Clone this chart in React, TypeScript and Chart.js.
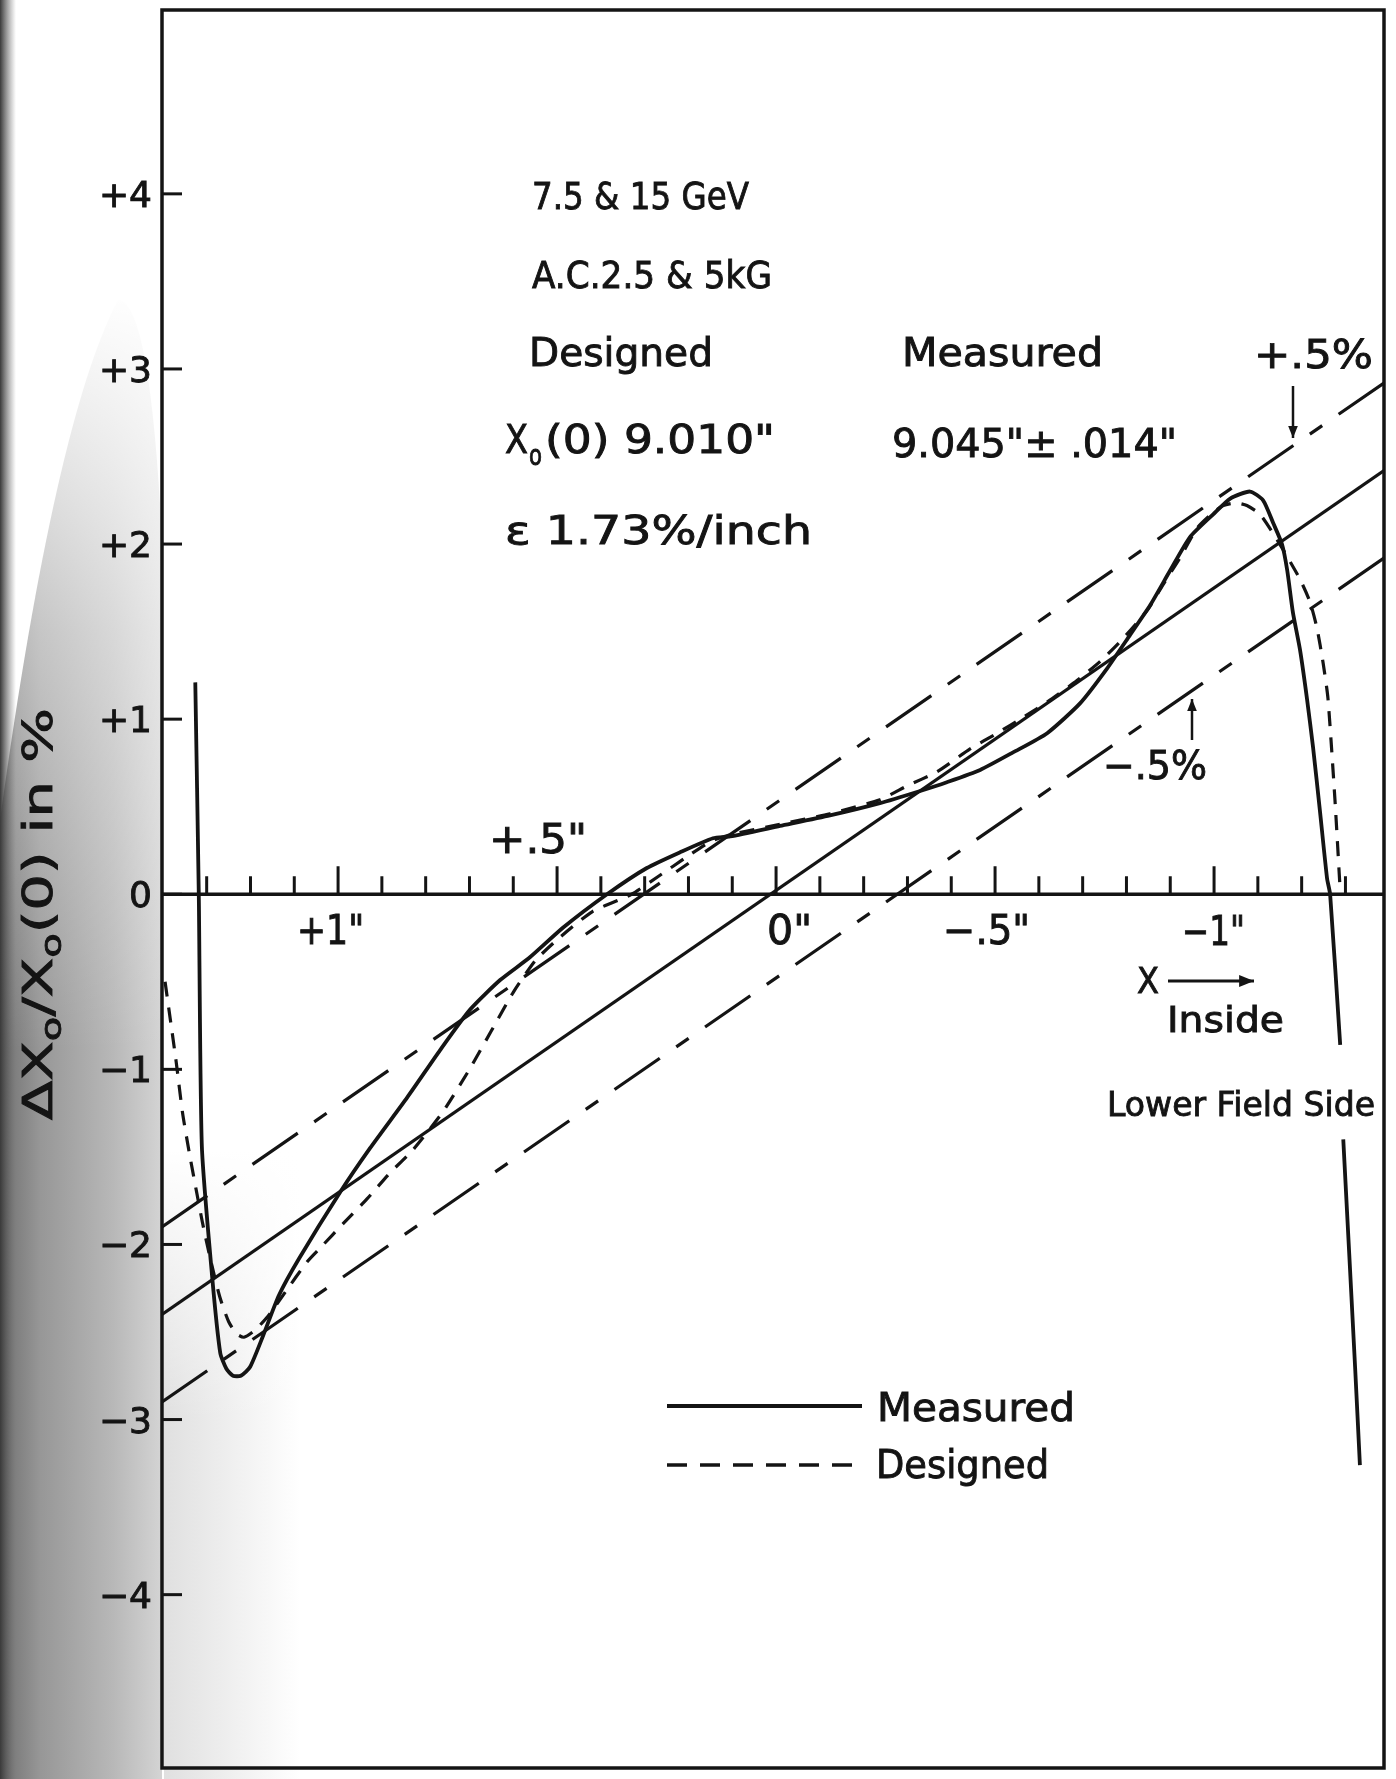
import React, { useEffect, useRef } from "react";
import { Chart, registerables } from "chart.js";

Chart.register(...registerables);

const CANVAS_W = 1396;
const CANVAS_H = 1779;

// X position in inches (positive = left / outside), ΔX0/X0(0) in %
const measuredX = [
  1.326, 1.318, 1.311, 1.288, 1.269, 1.255, 1.240, 1.222, 1.201, 1.171,
  1.135, 1.089, 0.995, 0.927, 0.842, 0.767, 0.699, 0.630, 0.562, 0.486,
  0.386, 0.295, 0.219, 0.144, 0.105, -0.009, -0.123, -0.237, -0.329, -0.390,
  -0.466, -0.541, -0.619, -0.694, -0.756, -0.808, -0.854, -0.900, -0.945, -0.998,
  -1.037, -1.082, -1.112, -1.135, -1.155, -1.167, -1.180, -1.196, -1.212, -1.226,
  -1.242, -1.258, -1.265, -1.288, -1.291, -1.295, -1.322, -1.333,
];
const measuredY = [
  1.21, 0.0, -1.44, -2.17, -2.62, -2.71, -2.75, -2.75, -2.70, -2.52,
  -2.29, -2.08, -1.70, -1.45, -1.16, -0.89, -0.66, -0.49, -0.36, -0.19,
  0.0, 0.15, 0.24, 0.32, 0.33, 0.39, 0.45, 0.52, 0.59, 0.64,
  0.71, 0.81, 0.92, 1.09, 1.29, 1.48, 1.65, 1.85, 2.04, 2.17,
  2.26, 2.30, 2.25, 2.12, 2.0, 1.85, 1.61, 1.40, 1.12, 0.84,
  0.47, 0.09, 0.0, -0.86, null, -1.40, -2.70, -3.26,
];

const designedX = [
  1.395, 1.370, 1.355, 1.338, 1.310, 1.290, 1.270, 1.250, 1.232, 1.215,
  1.190, 1.160, 1.120, 1.071, 1.037, 0.988, 0.934, 0.881, 0.829, 0.760,
  0.700, 0.650, 0.600, 0.550, 0.500, 0.420, 0.330, 0.270, 0.200, 0.150,
  0.105, -0.009, -0.123, -0.237, -0.300, -0.368, -0.443, -0.505, -0.564, -0.626,
  -0.687, -0.740, -0.792, -0.847, -0.884, -0.922, -0.961, -0.998, -1.021, -1.050,
  -1.075, -1.105, -1.150, -1.196, -1.219, -1.235, -1.249, -1.260, -1.276, -1.288,
];
const designedY = [
  -0.50, -0.95, -1.25, -1.50, -1.87, -2.10, -2.30, -2.44, -2.51, -2.53,
  -2.49, -2.41, -2.27, -2.10, -2.01, -1.88, -1.74, -1.59, -1.46, -1.24,
  -1.0, -0.78, -0.56, -0.38, -0.26, -0.10, 0.0, 0.10, 0.22, 0.30,
  0.34, 0.40, 0.46, 0.54, 0.62, 0.70, 0.83, 0.92, 1.01, 1.11,
  1.22, 1.33, 1.46, 1.62, 1.77, 1.92, 2.09, 2.18, 2.22, 2.235,
  2.22, 2.17, 2.0, 1.80, 1.67, 1.52, 1.32, 1.12, 0.54, 0.02,
];

// straight reference lines (1.73 %/inch), end points at the frame edges
const lineX = [1.402, -1.388];
const centerLineY = [-2.40, 2.42];
const plusLineY = [-1.90, 2.92];
const minusLineY = [-2.90, 1.92];

const yTickValues = [4, 3, 2, 1, 0, -1, -2, -3, -4];
const yTickLabels = ["+4", "+3", "+2", "+1", "0", "\u22121", "\u22122", "\u22123", "\u22124"];
const xMajorValues = [1, 0.5, 0, -0.5, -1];
const xMajorLabels = ['+1"', '+.5"', '0"', '\u2212.5"', '\u22121"'];
const xMinorValues = [
  1.3, 1.2, 1.1, 0.9, 0.8, 0.7, 0.6, 0.4, 0.3, 0.2, 0.1,
  -0.1, -0.2, -0.3, -0.4, -0.6, -0.7, -0.8, -0.9, -1.1, -1.2, -1.3,
];

const FONT = '"DejaVu Sans", "Liberation Sans", sans-serif';
const INK = "#141414";

function fitText(
  ctx: CanvasRenderingContext2D,
  s: string,
  x: number,
  base: number,
  width: number,
  size: number,
  family: string = FONT
) {
  ctx.font = `${size}px ${family}`;
  const w = ctx.measureText(s).width || 1;
  ctx.save();
  ctx.translate(x, base);
  ctx.scale(width / w, 1);
  ctx.textAlign = "left";
  ctx.textBaseline = "alphabetic";
  ctx.lineWidth = 0.9;
  ctx.fillText(s, 0, 0);
  ctx.strokeText(s, 0, 0);
  ctx.restore();
}

function arrow(ctx: CanvasRenderingContext2D, x1: number, y1: number, x2: number, y2: number, head = 13) {
  ctx.beginPath();
  ctx.moveTo(x1, y1);
  ctx.lineTo(x2, y2);
  ctx.stroke();
  const a = Math.atan2(y2 - y1, x2 - x1);
  ctx.beginPath();
  ctx.moveTo(x2, y2);
  ctx.lineTo(x2 - head * Math.cos(a - 0.38), y2 - head * Math.sin(a - 0.38));
  ctx.lineTo(x2 - head * Math.cos(a + 0.38), y2 - head * Math.sin(a + 0.38));
  ctx.closePath();
  ctx.fill();
}

const decorPlugin = {
  id: "decor",
  beforeDraw(chart: any) {
    const ctx: CanvasRenderingContext2D = chart.ctx;
    const area = chart.chartArea;
    ctx.save();
    ctx.fillStyle = "#ffffff";
    ctx.fillRect(0, 0, CANVAS_W, CANVAS_H);
    // scanned grey shadow on the left margin
    const g = ctx.createLinearGradient(0, 0, area.left, 0);
    g.addColorStop(0, "#707070");
    g.addColorStop(0.25, "#979797");
    g.addColorStop(0.7, "#b8b8b8");
    g.addColorStop(1, "#d4d4d4");
    ctx.fillStyle = g;
    ctx.beginPath();
    ctx.moveTo(0, CANVAS_H);
    ctx.lineTo(0, 820);
    ctx.quadraticCurveTo(55, 420, 118, 300);
    ctx.quadraticCurveTo(150, 300, area.left, 540);
    ctx.lineTo(area.left, CANVAS_H);
    ctx.closePath();
    ctx.fill();
    const v = ctx.createLinearGradient(0, 290, 0, 1050);
    v.addColorStop(0, "rgba(255,255,255,1)");
    v.addColorStop(0.45, "rgba(255,255,255,0.45)");
    v.addColorStop(1, "rgba(255,255,255,0)");
    ctx.fillStyle = v;
    ctx.fillRect(0, 290, area.left, 760);
    // faint spill of the shadow into the plot, bottom left
    ctx.save();
    ctx.beginPath();
    ctx.rect(area.left + 2, 1150, 140, CANVAS_H - 1150);
    ctx.clip();
    const s = ctx.createLinearGradient(area.left, 0, 300, 0);
    s.addColorStop(0, "rgba(185,185,185,0.45)");
    s.addColorStop(1, "rgba(185,185,185,0)");
    ctx.fillStyle = s;
    ctx.fillRect(area.left, 1150, 140, CANVAS_H - 1150);
    const s2 = ctx.createLinearGradient(0, 1150, 0, 1420);
    s2.addColorStop(0, "rgba(255,255,255,1)");
    s2.addColorStop(1, "rgba(255,255,255,0)");
    ctx.fillStyle = s2;
    ctx.fillRect(area.left, 1150, 140, 270);
    ctx.restore();
    // dark scanner edge
    const e = ctx.createLinearGradient(0, 0, 16, 0);
    e.addColorStop(0, "#3a3a3a");
    e.addColorStop(1, "rgba(110,110,110,0)");
    ctx.fillStyle = e;
    ctx.fillRect(0, 0, 16, CANVAS_H);
    ctx.restore();
  },
  beforeDatasetsDraw(chart: any) {
    const ctx: CanvasRenderingContext2D = chart.ctx;
    const area = chart.chartArea;
    const xs = chart.scales.x;
    const ys = chart.scales.y;
    ctx.save();
    ctx.strokeStyle = INK;
    ctx.fillStyle = INK;
    // frame
    ctx.lineWidth = 3.5;
    ctx.strokeRect(area.left, area.top, area.right - area.left, area.bottom - area.top);
    // y ticks (inside) and labels
    ctx.lineWidth = 3;
    yTickValues.forEach((v, i) => {
      const py = ys.getPixelForValue(v);
      ctx.beginPath();
      ctx.moveTo(area.left, py);
      ctx.lineTo(area.left + 20, py);
      ctx.stroke();
      ctx.save();
      ctx.font = `36px ${FONT}`;
      ctx.textAlign = "right";
      ctx.textBaseline = "alphabetic";
      ctx.lineWidth = 0.9;
      ctx.fillText(yTickLabels[i], area.left - 10, py + 13);
      ctx.strokeText(yTickLabels[i], area.left - 10, py + 13);
      ctx.restore();
    });
    // x axis along y = 0
    const y0 = ys.getPixelForValue(0);
    ctx.lineWidth = 3.5;
    ctx.beginPath();
    ctx.moveTo(area.left, y0);
    ctx.lineTo(area.right, y0);
    ctx.stroke();
    ctx.lineWidth = 3;
    xMinorValues.forEach((v) => {
      const px = xs.getPixelForValue(v);
      ctx.beginPath();
      ctx.moveTo(px, y0);
      ctx.lineTo(px, y0 - 18);
      ctx.stroke();
    });
    xMajorValues.forEach((v) => {
      const px = xs.getPixelForValue(v);
      ctx.beginPath();
      ctx.moveTo(px, y0);
      ctx.lineTo(px, y0 - 28);
      ctx.stroke();
    });
    ctx.restore();
  },
  afterDatasetsDraw(chart: any) {
    const ctx: CanvasRenderingContext2D = chart.ctx;
    const xs = chart.scales.x;
    const ys = chart.scales.y;
    const y0 = ys.getPixelForValue(0);
    ctx.save();
    ctx.fillStyle = INK;
    ctx.strokeStyle = INK;

    // x tick labels (offset from tick, width, baseline offset from axis)
    const xLab = [
      { dx: -41, w: 67, dy: 50 },
      { dx: -68, w: 98, dy: -41 },
      { dx: -9, w: 45, dy: 50 },
      { dx: -52, w: 87, dy: 50 },
      { dx: -32, w: 63, dy: 51 },
    ];
    xMajorValues.forEach((v, i) => {
      const px = xs.getPixelForValue(v);
      const l = xLab[i];
      fitText(ctx, xMajorLabels[i], px + l.dx, y0 + l.dy, l.w, 40);
    });

    // header text block
    fitText(ctx, "7.5 & 15 GeV", 532, 209, 217, 37);
    fitText(ctx, "A.C.2.5 & 5kG", 532, 288, 240, 37);
    fitText(ctx, "Designed", 529, 366, 184, 39);
    fitText(ctx, "Measured", 902, 366, 201, 39);
    fitText(ctx, "X", 505, 453, 23, 39);
    fitText(ctx, "o", 529, 465, 13, 28);
    fitText(ctx, '(0) 9.010"', 545, 453, 230, 39);
    fitText(ctx, '9.045"\u00b1 .014"', 892, 457, 285, 39);
    fitText(ctx, "\u03b5 1.73%/inch", 505, 544, 307, 39);

    // ±.5% labels with arrows
    fitText(ctx, "+.5%", 1254, 368, 119, 39);
    fitText(ctx, "\u2212.5%", 1103, 779, 104, 39);
    ctx.lineWidth = 2.5;
    arrow(ctx, 1293, 386, 1293, 438, 13);
    arrow(ctx, 1192, 740, 1192, 699, 13);

    // X -> Inside
    fitText(ctx, "X", 1137, 993, 22, 36);
    ctx.lineWidth = 3;
    arrow(ctx, 1168, 981, 1254, 981, 16);
    fitText(ctx, "Inside", 1167, 1032, 117, 36);
    fitText(ctx, "Lower Field Side", 1107, 1116, 268, 34);

    // y axis title
    ctx.save();
    ctx.translate(52, 1120);
    ctx.rotate(-Math.PI / 2);
    const parts = [
      { t: "\u0394X", s: 40, d: 0 },
      { t: "o", s: 28, d: 9 },
      { t: "/X", s: 40, d: 0 },
      { t: "o", s: 28, d: 9 },
      { t: "(0) in %", s: 40, d: 0 },
    ];
    let total = 0;
    const widths = parts.map((p) => {
      ctx.font = `${p.s}px ${FONT}`;
      const w = ctx.measureText(p.t).width;
      total += w;
      return w;
    });
    const sx = 412 / total;
    ctx.scale(sx, 1);
    let cx = 0;
    ctx.lineWidth = 0.9;
    parts.forEach((p, i) => {
      ctx.font = `${p.s}px ${FONT}`;
      ctx.textAlign = "left";
      ctx.textBaseline = "alphabetic";
      ctx.fillText(p.t, cx, p.d);
      ctx.strokeText(p.t, cx, p.d);
      cx += widths[i];
    });
    ctx.restore();

    // legend
    const dsM = chart.data.datasets[0];
    const dsD = chart.data.datasets[1];
    ctx.lineWidth = dsM.borderWidth;
    ctx.setLineDash([]);
    ctx.beginPath();
    ctx.moveTo(667, 1406);
    ctx.lineTo(862, 1406);
    ctx.stroke();
    fitText(ctx, dsM.label, 877, 1421, 198, 39);
    ctx.lineWidth = dsD.borderWidth + 0.5;
    ctx.setLineDash([20, 13]);
    ctx.beginPath();
    ctx.moveTo(667, 1465);
    ctx.lineTo(862, 1465);
    ctx.stroke();
    ctx.setLineDash([]);
    fitText(ctx, dsD.label, 876, 1478, 173, 39);
    ctx.restore();
  },
};

function pts(xv: number[], yv: (number | null)[]) {
  return xv.map((x, i) => ({ x, y: yv[i] }));
}

export default function App() {
  const ref = useRef<HTMLCanvasElement | null>(null);
  useEffect(() => {
    if (!ref.current) return;
    const chart = new Chart(ref.current, {
      type: "scatter",
      data: {
        datasets: [
          {
            label: "Measured",
            data: pts(measuredX, measuredY),
            showLine: true,
            borderColor: INK,
            borderWidth: 3.8,
            pointRadius: 0,
            tension: 0.2,
            spanGaps: false,
            order: 1,
          },
          {
            label: "Designed",
            data: pts(designedX, designedY),
            showLine: true,
            borderColor: INK,
            borderWidth: 3.2,
            borderDash: [15, 11],
            pointRadius: 0,
            tension: 0.2,
            order: 2,
          },
          {
            label: "ε 1.73 %/inch",
            data: pts(lineX, centerLineY),
            showLine: true,
            borderColor: INK,
            borderWidth: 3.2,
            pointRadius: 0,
            order: 3,
          },
          {
            label: "+.5%",
            data: pts(lineX, plusLineY),
            showLine: true,
            borderColor: INK,
            borderWidth: 3.2,
            borderDash: [55, 20, 15, 20],
            pointRadius: 0,
            order: 4,
          },
          {
            label: "-.5%",
            data: pts(lineX, minusLineY),
            showLine: true,
            borderColor: INK,
            borderWidth: 3.2,
            borderDash: [55, 20, 15, 20],
            pointRadius: 0,
            order: 5,
          },
        ],
      },
      options: {
        animation: false,
        responsive: false,
        devicePixelRatio: 1,
        layout: { padding: { left: 162, right: 12, top: 10, bottom: 11 } },
        scales: {
          x: { type: "linear", min: -1.388, max: 1.402, reverse: true, display: false },
          y: { type: "linear", min: -4.99, max: 5.05, display: false },
        },
        plugins: {
          legend: { display: false },
          tooltip: { enabled: false },
        },
        events: [],
      },
      plugins: [decorPlugin],
    });
    return () => chart.destroy();
  }, []);
  return (
    <div style={{ position: "absolute", left: 0, top: 0, width: CANVAS_W, height: CANVAS_H }}>
      <canvas ref={ref} width={CANVAS_W} height={CANVAS_H} style={{ display: "block" }} />
    </div>
  );
}
